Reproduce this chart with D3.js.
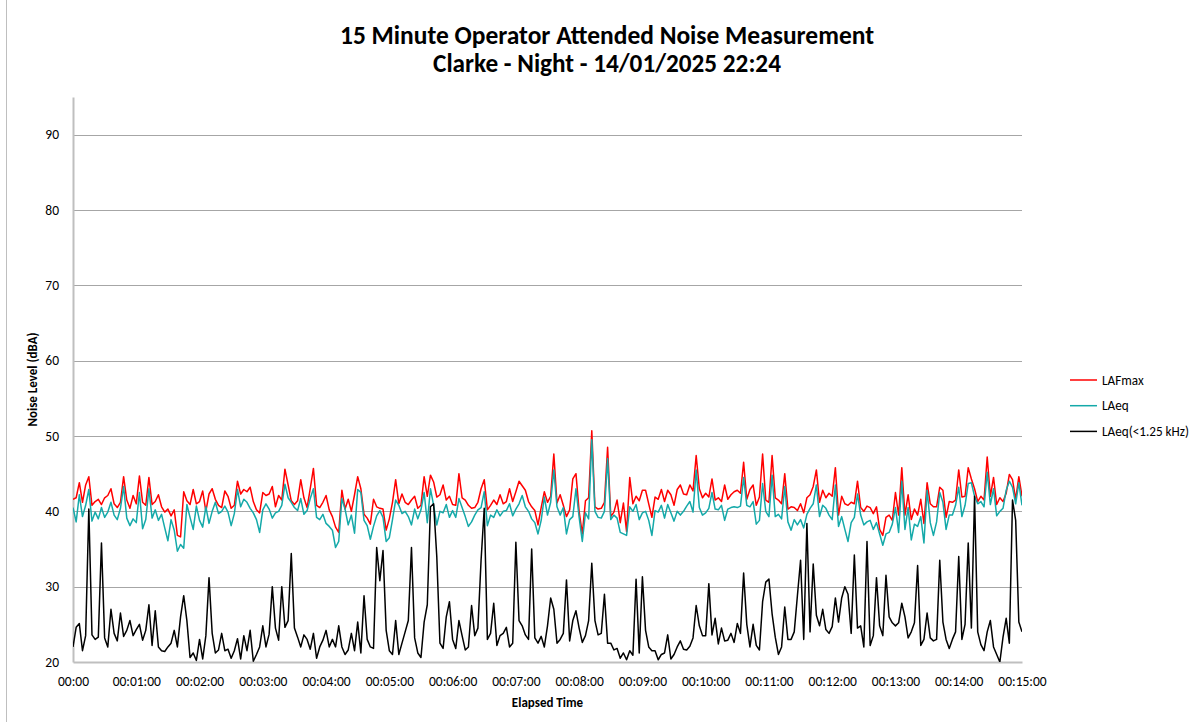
<!DOCTYPE html>
<html>
<head>
<meta charset="utf-8">
<script src="https://cdn.jsdelivr.net/npm/d3@7"></script>
<style>
  body { margin: 0; background: #fff; }
  svg { display: block; font-family: Carlito, Calibri, Lato, "Open Sans", sans-serif; }
</style>
</head>
<body>
<div id="chart"></div>
<script>
const titleLines = ['15 Minute Operator Attended Noise Measurement', 'Clarke - Night - 14/01/2025 22:24'];
const xTitle = 'Elapsed Time';
const yTitle = 'Noise Level (dBA)';
const seriesNames = ['LAFmax', 'LAeq', 'LAeq(<1.25 kHz)'];
const seriesColors = ['#ff0000', '#14a9a9', '#000000'];

// one reading every 3 seconds, 00:00 .. 15:00
const stepSeconds = 3;

const lafmax = [
  41.6,41.8,43.8,41.2,43.5,44.6,40.8,41.3,41.6,40.9,
  41.8,42.1,43.0,41.0,40.5,41.2,44.6,41.5,40.4,42.1,
  41.0,44.7,41.2,40.8,44.5,40.9,41.3,42.2,40.6,39.9,
  40.3,39.4,40.2,36.8,36.6,42.6,41.4,40.9,42.9,41.0,
  41.3,42.7,40.0,42.3,43.0,41.6,40.8,40.5,42.7,42.0,
  40.4,40.8,44.0,42.3,42.9,42.6,43.2,41.3,40.2,39.8,
  42.5,42.1,42.3,43.3,40.6,42.1,41.5,45.6,43.5,41.4,
  40.9,41.4,44.2,41.8,40.5,43.0,45.7,40.8,40.5,41.2,
  42.1,40.2,39.3,37.9,37.2,42.8,40.3,41.6,40.0,42.2,
  44.6,43.0,39.6,39.1,38.3,41.6,40.6,40.4,40.3,37.5,
  39.0,41.2,44.2,41.0,42.3,41.2,40.9,41.5,42.0,40.4,
  40.8,44.6,42.0,44.8,43.9,41.9,42.2,43.5,41.5,42.0,
  40.9,40.8,45.0,41.8,41.5,40.8,40.4,40.5,41.2,43.0,
  44.2,40.2,40.8,41.5,40.9,42.2,41.0,41.3,43.0,41.3,
  42.6,44.0,43.4,42.8,41.3,40.6,40.1,38.2,40.5,42.6,
  41.2,42.0,47.6,41.1,42.2,40.8,39.3,40.2,44.3,45.0,
  40.0,37.0,41.4,41.8,50.7,40.6,40.3,40.4,41.2,48.5,
  39.3,39.9,41.5,38.5,41.1,37.3,44.5,41.0,42.0,41.4,
  42.8,42.8,41.0,39.2,41.9,41.6,42.9,41.3,42.8,42.2,
  40.8,42.9,43.5,42.3,42.2,43.5,42.7,47.4,43.0,41.8,
  42.4,41.9,44.3,41.5,41.8,41.3,43.5,41.6,42.2,42.6,
  42.8,42.4,46.5,41.6,42.9,43.5,40.8,41.9,47.6,41.5,
  41.2,47.4,41.8,41.5,41.0,45.0,40.3,40.6,40.5,40.1,
  41.0,39.8,41.8,42.2,43.3,45.5,41.2,42.8,41.8,42.4,
  42.0,45.8,39.5,42.0,41.0,40.8,41.2,41.0,44.0,40.5,
  40.0,40.7,40.5,39.7,40.6,37.6,36.8,39.2,39.5,38.8,
  42.5,39.5,45.8,39.5,42.2,38.9,40.3,39.5,41.6,38.4,
  43.8,41.0,40.6,40.6,43.2,42.8,39.2,41.3,41.2,41.5,
  45.5,41.9,42.0,45.8,44.3,43.0,41.3,42.0,41.5,47.2,
  42.0,44.5,40.9,41.8,41.3,42.4,44.9,44.2,41.6,44.6,
  42.0
];

const laeq = [
  40.5,38.6,42.2,39.3,40.8,42.9,38.7,39.9,39.0,40.5,
  39.2,39.9,41.2,39.5,38.9,40.4,43.3,39.1,38.1,39.0,
  38.5,42.5,37.7,38.9,43.0,39.1,40.2,38.8,39.6,37.8,
  36.1,38.9,37.5,34.7,35.6,35.1,40.9,39.2,37.6,40.7,
  38.8,37.9,40.6,38.4,40.0,41.2,39.7,40.0,40.7,39.9,
  38.1,39.7,42.9,40.6,41.6,41.2,40.4,39.8,38.9,37.2,
  40.2,41.0,40.3,39.1,39.8,40.0,40.8,43.6,41.8,41.2,
  40.5,40.1,41.7,39.6,40.1,41.7,43.0,39.2,38.9,39.6,
  38.4,38.0,37.5,35.2,36.0,41.7,40.3,38.2,39.5,37.1,
  42.9,42.5,38.8,38.1,36.3,38.0,39.4,40.1,39.2,36.0,
  36.5,38.9,41.5,40.8,39.7,40.0,39.3,38.2,40.3,39.0,
  40.2,42.5,38.5,43.0,40.8,38.2,40.0,39.8,40.9,39.2,
  40.1,39.2,41.7,40.5,39.3,38.0,38.6,39.5,40.2,40.5,
  42.6,38.1,39.5,39.2,40.2,39.4,40.0,40.1,41.0,39.4,
  40.3,41.0,42.1,40.6,40.0,39.0,38.5,37.0,38.8,41.9,
  39.5,41.2,45.5,40.6,39.5,40.5,37.0,38.9,39.3,43.0,
  39.2,36.0,39.8,39.0,49.5,40.0,39.2,39.1,40.0,47.0,
  38.9,39.5,39.1,37.2,37.0,36.8,40.6,40.0,40.9,38.9,
  39.8,40.0,38.8,36.8,40.1,39.9,40.8,39.1,40.9,39.8,
  38.7,40.0,39.5,40.0,40.7,41.3,39.9,45.5,40.5,39.5,
  39.8,40.4,42.5,40.3,40.2,40.8,38.8,40.3,40.5,40.6,
  40.5,40.7,44.5,40.8,40.6,41.3,38.3,38.8,43.7,40.0,
  39.3,44.8,39.3,39.6,39.0,43.3,38.6,37.5,38.9,38.2,
  38.9,37.8,39.6,40.4,41.0,43.5,39.3,40.8,40.4,39.5,
  38.9,43.5,38.0,39.3,37.6,36.0,38.5,39.2,42.3,39.5,
  38.2,38.6,38.8,37.6,38.5,37.0,35.5,37.0,37.2,38.3,
  40.5,37.2,44.0,37.6,40.5,36.2,38.3,38.0,39.3,35.8,
  42.8,38.5,36.8,38.6,42.5,41.2,37.6,39.5,39.5,40.8,
  43.2,39.3,40.8,43.7,43.8,42.0,41.0,41.3,40.6,45.2,
  40.9,43.0,39.4,40.0,40.4,42.8,44.0,43.2,41.0,43.8,
  40.8
];

const laeqLow = [
  22.0,24.6,25.1,21.5,23.5,40.3,23.6,23.0,23.3,35.8,
  23.2,22.0,27.0,23.8,22.8,26.5,23.4,24.2,25.5,23.5,
  24.3,25.0,22.9,24.2,27.6,22.2,26.8,22.0,21.5,21.4,
  22.0,22.5,24.2,22.0,26.0,28.8,25.5,20.6,21.2,20.2,
  23.0,20.4,23.5,31.2,23.8,21.2,21.6,23.8,21.5,21.7,
  20.5,21.5,23.1,20.4,23.5,21.5,24.2,20.1,21.0,22.0,
  24.8,22.0,23.7,30.0,24.5,22.9,30.0,24.6,25.5,34.4,
  24.5,23.3,22.0,23.6,23.0,21.7,23.8,20.5,22.0,22.9,
  24.2,22.0,23.0,22.0,24.8,22.0,21.0,21.6,23.8,21.5,
  25.3,21.2,28.8,23.0,22.0,21.8,35.2,30.8,34.8,24.2,
  21.5,21.0,25.5,21.0,22.5,24.0,25.5,35.2,23.2,21.2,
  20.6,25.3,27.6,40.6,41.0,34.0,22.5,21.8,26.0,28.0,
  23.0,21.8,25.5,23.5,21.6,22.0,27.5,23.5,24.5,33.5,
  40.4,23.0,23.8,27.8,22.2,23.5,23.8,24.6,22.0,22.5,
  35.9,25.5,24.8,23.6,23.0,35.0,23.2,22.5,23.4,22.0,
  24.8,28.5,27.0,22.5,23.0,23.8,30.9,22.8,25.5,26.8,
  24.5,22.6,23.5,25.5,33.1,25.5,23.6,23.8,29.0,22.5,
  22.5,21.6,21.8,20.5,21.2,20.3,21.5,20.9,31.0,21.2,
  31.3,24.2,22.0,21.5,21.5,20.3,21.0,21.2,23.6,20.4,
  21.0,22.0,22.8,21.7,21.6,22.1,23.2,27.5,24.8,23.5,
  23.5,30.4,23.6,25.8,22.4,24.5,22.8,22.9,23.8,22.6,
  25.1,23.8,31.8,25.0,22.0,25.0,22.2,21.6,28.0,30.6,
  31.0,26.4,23.3,21.0,22.0,27.3,23.0,23.0,24.0,28.8,
  33.5,23.0,38.4,24.0,33.0,26.2,24.8,27.0,24.3,23.8,
  24.7,28.5,25.3,28.5,30.0,29.0,23.8,34.2,24.5,24.8,
  22.0,36.0,22.2,23.5,31.2,24.8,23.5,31.5,26.0,25.2,
  24.8,25.2,27.8,26.0,23.2,24.0,25.2,32.8,22.2,23.0,
  26.5,23.2,22.8,23.0,33.5,25.3,23.0,21.8,23.0,24.0,
  34.0,23.0,25.0,35.8,24.5,42.0,24.0,22.3,21.5,24.0,
  25.5,22.0,21.0,20.0,23.3,25.8,22.5,41.5,38.8,25.3,
  24.0
];

const yTicks = [20, 30, 40, 50, 60, 70, 80, 90];
const xTickSeconds = [0, 60, 120, 180, 240, 300, 360, 420, 480, 540, 600, 660, 720, 780, 840, 900];
const xTickLabels = ['00:00', '00:01:00', '00:02:00', '00:03:00', '00:04:00', '00:05:00', '00:06:00', '00:07:00',
  '00:08:00', '00:09:00', '00:10:00', '00:11:00', '00:12:00', '00:13:00', '00:14:00', '00:15:00'];

const width = 1203;
const height = 722;
const plot = { left: 73, right: 1022, top: 97, bottom: 662 };

const svg = d3.select('#chart')
  .append('svg')
  .attr('width', width)
  .attr('height', height);

// chart area border (left edge only visible)
svg.append('line')
  .attr('x1', 6.5).attr('x2', 6.5)
  .attr('y1', 0).attr('y2', height)
  .attr('stroke', '#bfbfbf')
  .attr('stroke-width', 1);

const xScale = d3.scaleLinear().domain([0, 900]).range([plot.left, plot.right]);
const yScale = d3.scaleLinear().domain([20, 95]).range([plot.bottom, plot.top]);

// gridlines
svg.append('g')
  .selectAll('line')
  .data(yTicks.filter((d) => d > 20))
  .join('line')
  .attr('x1', plot.left)
  .attr('x2', plot.right)
  .attr('y1', (d) => Math.round(yScale(d)) + 0.5)
  .attr('y2', (d) => Math.round(yScale(d)) + 0.5)
  .attr('stroke', '#a6a6a6')
  .attr('stroke-width', 1);

// y axis
const yAxis = svg.append('g')
  .attr('transform', `translate(${plot.left}, 0)`)
  .call(d3.axisLeft(yScale).tickValues(yTicks).tickSize(0).tickPadding(14));
yAxis.select('.domain').attr('stroke', '#bfbfbf').attr('stroke-width', 2);
yAxis.selectAll('text').attr('font-size', 13.5).attr('fill', '#000')
  .style('font-family', 'Carlito, Calibri, Lato, sans-serif');

// x axis
const xAxis = svg.append('g')
  .attr('transform', `translate(0, ${plot.bottom})`)
  .call(d3.axisBottom(xScale)
    .tickValues(xTickSeconds)
    .tickFormat((d, i) => xTickLabels[i])
    .tickSize(0)
    .tickPadding(14));
xAxis.select('.domain').attr('stroke', '#bfbfbf').attr('stroke-width', 2);
xAxis.selectAll('text').attr('font-size', 13.5).attr('fill', '#000')
  .style('font-family', 'Carlito, Calibri, Lato, sans-serif');

// series
svg.append('clipPath').attr('id', 'plot-clip')
  .append('rect')
  .attr('x', plot.left).attr('y', plot.top)
  .attr('width', plot.right - plot.left).attr('height', plot.bottom - plot.top);

const allSeries = [lafmax, laeq, laeqLow];
const line = d3.line()
  .x((d, i) => xScale(i * stepSeconds))
  .y((d) => yScale(d));

svg.append('g')
  .attr('clip-path', 'url(#plot-clip)')
  .selectAll('path')
  .data(allSeries)
  .join('path')
  .attr('d', line)
  .attr('fill', 'none')
  .attr('stroke', (d, i) => seriesColors[i])
  .attr('stroke-width', 1.5)
  .attr('stroke-linejoin', 'round');

// titles
const title = svg.append('g')
  .attr('font-weight', 'bold')
  .attr('text-anchor', 'middle');
const titleY = [43.5, 72];
const titleWidths = [534, 348];
titleLines.forEach((t, i) => {
  const el = title.append('text')
    .attr('x', 607)
    .attr('y', titleY[i])
    .attr('font-size', 21)
    .text(t);
  const w = el.node().getComputedTextLength();
  el.attr('font-size', 21 * titleWidths[i] / w);
});

svg.append('text')
  .attr('x', (plot.left + plot.right) / 2)
  .attr('y', 707)
  .attr('text-anchor', 'middle')
  .attr('font-weight', 'bold')
  .attr('font-size', 13)
  .text(xTitle);

svg.append('text')
  .attr('transform', `translate(37, ${(plot.top + plot.bottom) / 2}) rotate(-90)`)
  .attr('text-anchor', 'middle')
  .attr('font-weight', 'bold')
  .attr('font-size', 13)
  .text(yTitle);

// legend
const legend = svg.append('g').attr('transform', 'translate(1070, 380)');
const legendRows = legend.selectAll('g')
  .data(seriesNames)
  .join('g')
  .attr('transform', (d, i) => `translate(0, ${i * 25.7})`);
legendRows.append('line')
  .attr('x1', 0).attr('x2', 27)
  .attr('stroke', (d, i) => seriesColors[i])
  .attr('stroke-width', 1.5);
legendRows.append('text')
  .attr('x', 32)
  .attr('dy', '0.35em')
  .attr('font-size', 13.2)
  .text((d) => d);
</script>
</body>
</html>
